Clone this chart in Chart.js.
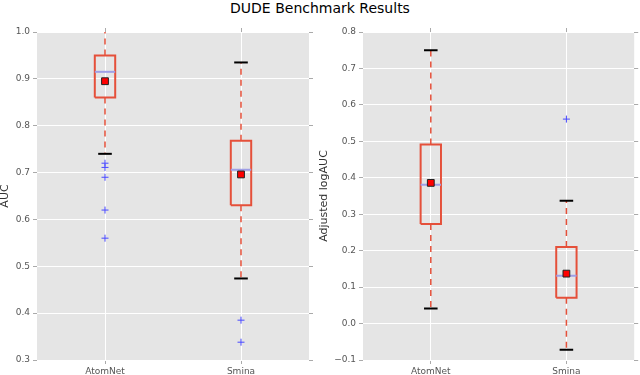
<!DOCTYPE html>
<html>
<head>
<meta charset="utf-8">
<script src="https://cdn.jsdelivr.net/npm/chart.js@4"></script>
<style>
  body { margin: 0; background: #fff; width: 640px; height: 375px; position: relative; overflow: hidden; font-family: "DejaVu Sans", sans-serif; }
  #title { position: absolute; left: 0; top: 0; width: 640px; text-align: center; font-size: 14px; line-height: 16px; color: #000; }
  #wrapAuc { position: absolute; left: 0; top: 0; width: 316px; height: 375px; }
  #wrapLog { position: absolute; left: 312px; top: 0; width: 328px; height: 375px; }
</style>
</head>
<body>
<div id="title">DUDE Benchmark Results</div>
<div id="wrapAuc"><canvas id="aucChart"></canvas></div>
<div id="wrapLog"><canvas id="logChart"></canvas></div>
<script>
// categories
const categories = ['AtomNet', 'Smina'];

// AUC panel
const aucLow = [0.74, 0.474];
const aucQ1 = [0.86, 0.63];
const aucMedian = [0.915, 0.706];
const aucQ3 = [0.95, 0.768];
const aucHigh = [1.0, 0.935];
const aucMean = [0.895, 0.696];
const aucOutliers = [[0.72, 0.711, 0.69, 0.62, 0.56], [0.385, 0.338]];
const aucTicks = [0.3, 0.4, 0.5, 0.6, 0.7, 0.8, 0.9, 1.0];

// Adjusted logAUC panel
const logLow = [0.041, -0.072];
const logQ1 = [0.273, 0.071];
const logMedian = [0.381, 0.131];
const logQ3 = [0.491, 0.21];
const logHigh = [0.75, 0.337];
const logMean = [0.386, 0.137];
const logOutliers = [[], [0.561]];
const logTicks = [-0.1, 0.0, 0.1, 0.2, 0.3, 0.4, 0.5, 0.6, 0.7, 0.8];

const RED = '#e5503a';
const MEDIAN = '#9f9fe6';
const FLIER = '#4848ff';
const BOX_HALF = 0.075;
const CAP_HALF = 0.05;
const FONT = '"DejaVu Sans", sans-serif';

function seg(points, color, width, dash) {
    return { data: points, showLine: true, borderColor: color, borderWidth: width, borderDash: dash || [], pointRadius: 0, fill: false };
}

function buildDatasets(low, q1, med, q3, high, mean, outliers) {
    const sets = [];
    sets.push({
        data: categories.map((c, i) => ({ x: i + 1, y: mean[i] })),
        pointStyle: 'rect', pointRadius: 4.8, backgroundColor: '#ff0000', borderColor: '#222', borderWidth: 1
    });
    sets.push({
        data: categories.flatMap((c, i) => outliers[i].map(v => ({ x: i + 1, y: v }))),
        pointStyle: 'cross', pointRadius: 3.5, borderColor: FLIER, borderWidth: 1
    });
    categories.forEach((c, i) => {
        const x = i + 1;
        sets.push(seg([{ x: x - BOX_HALF, y: med[i] }, { x: x + BOX_HALF, y: med[i] }], MEDIAN, 2));
        sets.push(seg([
            { x: x - BOX_HALF, y: q1[i] }, { x: x + BOX_HALF, y: q1[i] },
            { x: x + BOX_HALF, y: q3[i] }, { x: x - BOX_HALF, y: q3[i] },
            { x: x - BOX_HALF, y: q1[i] }
        ], RED, 2));
        // caps sitting on the plot edge get hidden, like the original
        sets.push({ ...seg([{ x: x - CAP_HALF, y: high[i] }, { x: x + CAP_HALF, y: high[i] }], '#000', 2), clip: -1 });
        sets.push({ ...seg([{ x: x - CAP_HALF, y: low[i] }, { x: x + CAP_HALF, y: low[i] }], '#000', 2), clip: -1 });
        sets.push(seg([{ x: x, y: q3[i] }, { x: x, y: high[i] }], RED, 1.5, [6, 5]));
        sets.push(seg([{ x: x, y: q1[i] }, { x: x, y: low[i] }], RED, 1.5, [6, 5]));
    });
    return sets;
}

const plotBackground = {
    id: 'plotBackground',
    beforeDraw(chart) {
        const a = chart.chartArea;
        chart.ctx.save();
        chart.ctx.fillStyle = '#e5e5e5';
        chart.ctx.fillRect(a.left, a.top, a.right - a.left, a.bottom - a.top);
        chart.ctx.restore();
    }
};

function makeChart(id, ticks, label, sizes, datasets) {
    const tickFont = { family: FONT, size: 9 };
    const fmt = v => (v < 0 ? '\u2212' + Math.abs(v).toFixed(1) : v.toFixed(1));
    const yRange = { min: ticks[0], max: ticks[ticks.length - 1] };
    return new Chart(document.getElementById(id), {
        type: 'scatter',
        data: { datasets },
        options: {
            responsive: true,
            maintainAspectRatio: false,
            animation: false,
            layout: { padding: 0 },
            plugins: { legend: { display: false }, tooltip: { enabled: false } },
            scales: {
                x: {
                    type: 'linear', position: 'bottom', min: 0.5, max: 2.5,
                    afterBuildTicks: s => { s.ticks = categories.map((c, i) => ({ value: i + 1 })); },
                    ticks: { callback: v => categories[v - 1], font: tickFont, color: '#555', padding: 2, maxRotation: 0 },
                    grid: { color: '#ffffff', lineWidth: 1, tickColor: '#aaa', tickLength: 4 },
                    border: { display: false },
                    afterFit: s => { s.height = 15; }
                },
                x2: {
                    type: 'linear', position: 'top', min: 0.5, max: 2.5,
                    afterBuildTicks: s => { s.ticks = categories.map((c, i) => ({ value: i + 1 })); },
                    ticks: { display: false },
                    grid: { drawOnChartArea: false, tickColor: '#aaa', tickLength: 4 },
                    border: { display: false },
                    afterFit: s => { s.height = 32; }
                },
                y: {
                    type: 'linear', position: 'left', ...yRange,
                    afterBuildTicks: s => { s.ticks = ticks.map(v => ({ value: v })); },
                    ticks: { callback: fmt, font: tickFont, color: '#555', padding: 3 },
                    grid: { color: '#ffffff', lineWidth: 1, tickColor: '#aaa', tickLength: 4 },
                    border: { display: false },
                    title: { display: true, text: label, font: { family: FONT, size: 11, lineHeight: 1 }, color: '#333', padding: { top: sizes.titlePad, bottom: 0 } },
                    afterFit: s => { s.width = sizes.left; }
                },
                y2: {
                    type: 'linear', position: 'right', ...yRange,
                    afterBuildTicks: s => { s.ticks = ticks.map(v => ({ value: v })); },
                    ticks: { display: false },
                    grid: { drawOnChartArea: false, tickColor: '#aaa', tickLength: 4 },
                    border: { display: false },
                    afterFit: s => { s.width = sizes.right; }
                }
            }
        },
        plugins: [plotBackground]
    });
}

makeChart('aucChart', aucTicks, 'AUC', { left: 37, right: 7, titlePad: 0 },
    buildDatasets(aucLow, aucQ1, aucMedian, aucQ3, aucHigh, aucMean, aucOutliers));
makeChart('logChart', logTicks, 'Adjusted logAUC', { left: 51, right: 5, titlePad: 7 },
    buildDatasets(logLow, logQ1, logMedian, logQ3, logHigh, logMean, logOutliers));
</script>
</body>
</html>
